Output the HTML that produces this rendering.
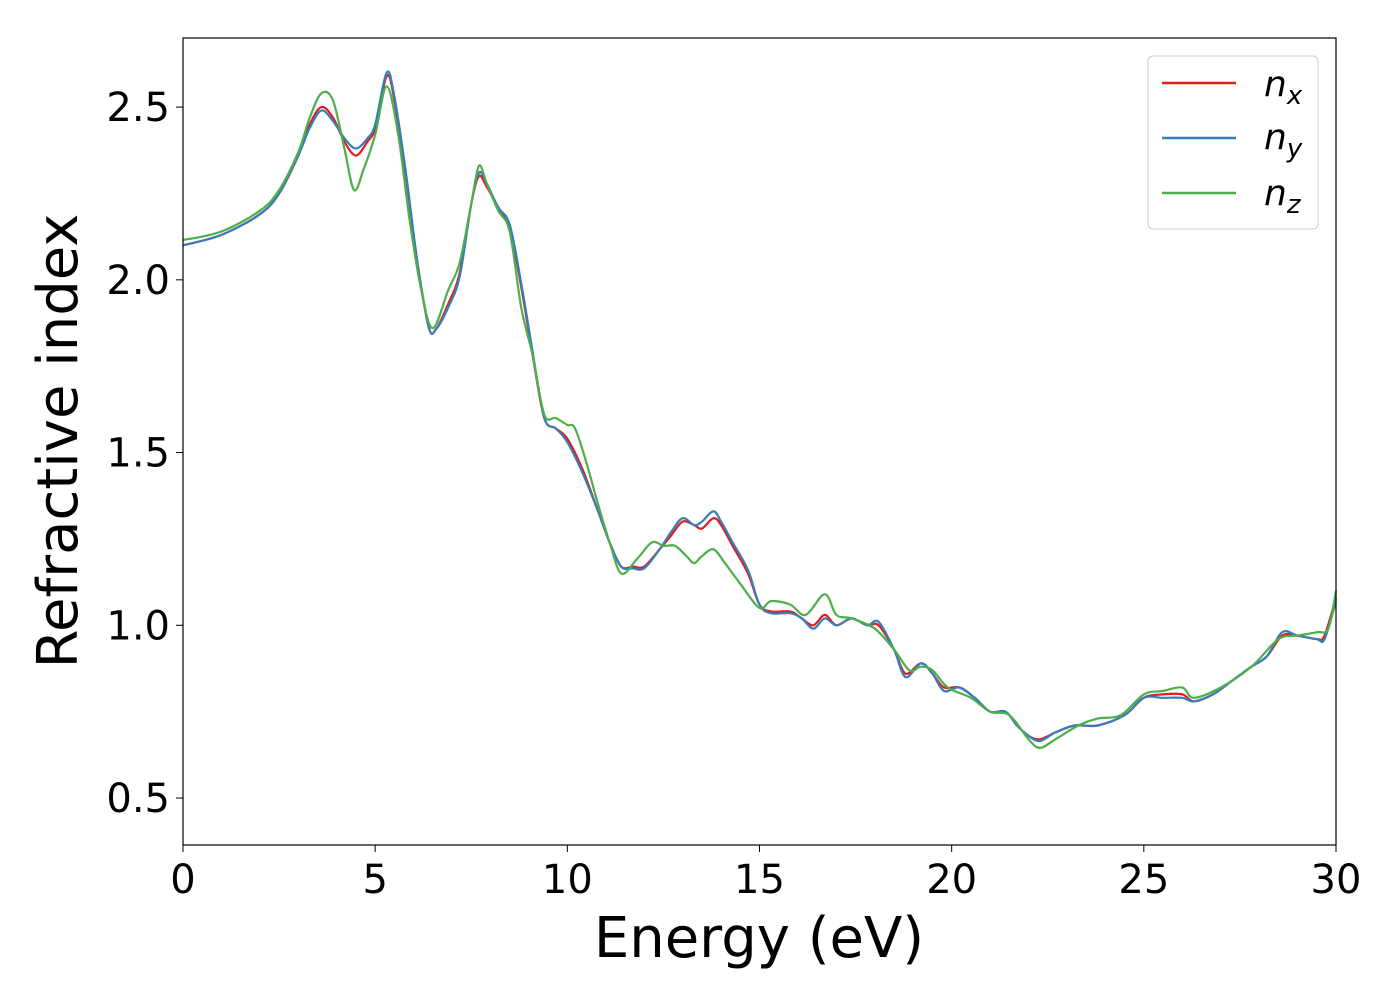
<!DOCTYPE html>
<html><head><meta charset="utf-8"><style>
html,body{margin:0;padding:0;background:#fff;}
svg{display:block;font-family:"DejaVu Sans","Liberation Sans",sans-serif;}
</style></head><body>
<svg id="chart" width="1400" height="1000" viewBox="0 0 1400 1000" xmlns="http://www.w3.org/2000/svg">
<rect x="0" y="0" width="1400" height="1000" fill="#fff"/>
<g id="series"></g>
<rect x="183" y="38" width="1153" height="807" fill="none" stroke="#000" stroke-width="1.2"/>
<g id="xticks"></g><g id="yticks"></g>
<text x="759" y="957" font-size="56" text-anchor="middle">Energy (eV)</text>
<text transform="translate(77,441) rotate(-90)" font-size="56" text-anchor="middle">Refractive index</text>
<g>
<rect x="1148" y="56" width="170" height="173" rx="5" fill="#fff" fill-opacity="0.8" stroke="#ccc"/>
<line x1="1162" y1="83" x2="1236" y2="83" stroke="#e41a1c" stroke-width="2.5"/>
<text x="1264" y="96" font-size="36" font-style="italic">n<tspan font-size="26" dy="8">x</tspan></text>
<line x1="1162" y1="138" x2="1236" y2="138" stroke="#377eb8" stroke-width="2.5"/>
<text x="1264" y="149" font-size="36" font-style="italic">n<tspan font-size="26" dy="8">y</tspan></text>
<line x1="1162" y1="193" x2="1236" y2="193" stroke="#4daf4a" stroke-width="2.5"/>
<text x="1264" y="205" font-size="36" font-style="italic">n<tspan font-size="26" dy="8">z</tspan></text>
</g>
</svg>
<script>
const xTicks=[0,5,10,15,20,25,30];
const yTicks=[0.5,1.0,1.5,2.0,2.5];
const yTickLabels=["0.5","1.0","1.5","2.0","2.5"];
const exE=[0,1,2,2.5,3,3.3,3.6,3.9,4.2,4.5,4.8,5.0,5.3,5.5,5.8,6.1,6.4,6.6,6.9,7.2,7.5,7.7,7.9,8.2,8.5,8.8,9.1,9.4,9.7,10.0,10.4,10.8,11.1,11.4,11.7,12.0,12.4,12.7,13.0,13.3,13.5,13.8,14.0,14.3,14.7,15.0,15.3,15.8,16.1,16.4,16.7,17.0,17.4,17.8,18.1,18.5,18.8,19.2,19.5,19.8,20.2,20.6,21.0,21.4,21.7,22.0,22.3,22.7,23.2,23.8,24.5,25.0,25.5,26.0,26.3,26.8,27.3,27.8,28.2,28.6,29.0,29.5,29.7,30];
const nx=[2.10,2.13,2.19,2.25,2.36,2.45,2.50,2.47,2.40,2.36,2.40,2.44,2.59,2.52,2.30,2.05,1.86,1.86,1.93,2.02,2.22,2.30,2.27,2.21,2.15,1.98,1.78,1.60,1.57,1.54,1.45,1.33,1.24,1.17,1.17,1.17,1.22,1.26,1.30,1.29,1.28,1.31,1.29,1.23,1.15,1.06,1.04,1.04,1.02,1.00,1.03,1.00,1.02,1.00,1.00,0.93,0.86,0.89,0.86,0.82,0.82,0.79,0.75,0.75,0.71,0.68,0.67,0.69,0.71,0.71,0.74,0.79,0.80,0.80,0.78,0.80,0.84,0.88,0.91,0.97,0.97,0.96,0.97,1.08];
const ny=[2.10,2.13,2.19,2.25,2.36,2.44,2.49,2.46,2.41,2.38,2.41,2.45,2.60,2.53,2.31,2.05,1.86,1.86,1.92,2.01,2.22,2.31,2.28,2.21,2.16,1.99,1.79,1.60,1.57,1.53,1.44,1.33,1.24,1.17,1.165,1.165,1.22,1.27,1.31,1.29,1.30,1.33,1.30,1.24,1.16,1.06,1.035,1.035,1.02,0.99,1.02,1.00,1.02,1.00,1.01,0.93,0.85,0.89,0.86,0.81,0.82,0.79,0.75,0.75,0.71,0.68,0.665,0.69,0.71,0.71,0.74,0.79,0.79,0.79,0.78,0.80,0.84,0.88,0.91,0.98,0.97,0.96,0.96,1.07];
const ezE=[0,1,2,2.5,3,3.3,3.6,3.9,4.2,4.45,4.7,5.0,5.3,5.6,5.9,6.2,6.5,6.9,7.2,7.5,7.7,7.9,8.2,8.5,8.8,9.1,9.4,9.7,10.0,10.2,10.5,10.8,11.1,11.4,11.8,12.2,12.5,12.8,13.1,13.3,13.5,13.8,14.1,14.5,15.0,15.3,15.8,16.2,16.7,17.0,17.4,18.0,18.5,18.9,19.2,19.5,19.9,20.5,21.0,21.5,22.0,22.3,22.7,23.3,23.8,24.4,25.0,25.5,26.0,26.3,27.0,27.8,28.5,29.0,29.5,29.8,30];
const nz=[2.115,2.14,2.20,2.26,2.37,2.47,2.54,2.52,2.38,2.26,2.32,2.42,2.56,2.42,2.17,1.97,1.86,1.97,2.05,2.22,2.33,2.28,2.20,2.14,1.92,1.78,1.61,1.60,1.58,1.57,1.47,1.35,1.24,1.15,1.19,1.24,1.23,1.23,1.20,1.18,1.20,1.22,1.18,1.12,1.05,1.07,1.06,1.03,1.09,1.03,1.02,0.99,0.93,0.87,0.88,0.87,0.82,0.79,0.75,0.74,0.67,0.645,0.67,0.71,0.73,0.74,0.80,0.81,0.82,0.79,0.82,0.88,0.96,0.97,0.98,0.99,1.10];
const X0=183,X1=1336,YT=38,YB=845;
const xMin=0,xMax=30,yMin=0.364,yMax=2.70;
function sx(v){return X0+(v-xMin)/(xMax-xMin)*(X1-X0);}
function sy(v){return YB-(v-yMin)/(yMax-yMin)*(YB-YT);}
const NS="http://www.w3.org/2000/svg";
function smoothPath(xs,ys){
  const p=xs.map((x,i)=>[sx(x),sy(ys[i])]);
  let d="M"+p[0][0].toFixed(1)+","+p[0][1].toFixed(1);
  for(let i=0;i<p.length-1;i++){
    const a=p[Math.max(0,i-1)],b=p[i],c=p[i+1],e=p[Math.min(p.length-1,i+2)];
    const c1=[b[0]+(c[0]-a[0])/6,b[1]+(c[1]-a[1])/6];
    const c2=[c[0]-(e[0]-b[0])/6,c[1]-(e[1]-b[1])/6];
    d+="C"+c1[0].toFixed(1)+","+c1[1].toFixed(1)+" "+c2[0].toFixed(1)+","+c2[1].toFixed(1)+" "+c[0].toFixed(1)+","+c[1].toFixed(1);
  }
  return d;
}
const g=document.getElementById("series");
[[exE,nx,"#e41a1c","line-nx"],[exE,ny,"#377eb8","line-ny"],[ezE,nz,"#4daf4a","line-nz"]].forEach(s=>{
  const el=document.createElementNS(NS,"path");
  el.setAttribute("d",smoothPath(s[0],s[1]));
  el.setAttribute("fill","none");el.setAttribute("stroke",s[2]);el.setAttribute("stroke-width","2.2");
  
  
  g.appendChild(el);
});
const xg=document.getElementById("xticks");
xTicks.forEach(v=>{
  const l=document.createElementNS(NS,"line");
  l.setAttribute("x1",sx(v));l.setAttribute("x2",sx(v));l.setAttribute("y1",YB);l.setAttribute("y2",YB+7);l.setAttribute("stroke","#000");
  
  
  xg.appendChild(l);
  const t=document.createElementNS(NS,"text");
  t.setAttribute("x",sx(v));t.setAttribute("y",893);t.setAttribute("font-size","40");t.setAttribute("text-anchor","middle");
  t.textContent=String(v);
  
  
  xg.appendChild(t);
});
const yg=document.getElementById("yticks");
yTicks.forEach((v,i)=>{
  const l=document.createElementNS(NS,"line");
  l.setAttribute("x1",X0-7);l.setAttribute("x2",X0);l.setAttribute("y1",sy(v));l.setAttribute("y2",sy(v));l.setAttribute("stroke","#000");
  
  
  yg.appendChild(l);
  const t=document.createElementNS(NS,"text");
  t.setAttribute("x",170);t.setAttribute("y",sy(v)+14);t.setAttribute("font-size","40");t.setAttribute("text-anchor","end");
  t.textContent=yTickLabels[i];
  
  
  yg.appendChild(t);
});
</script>
</body></html>
